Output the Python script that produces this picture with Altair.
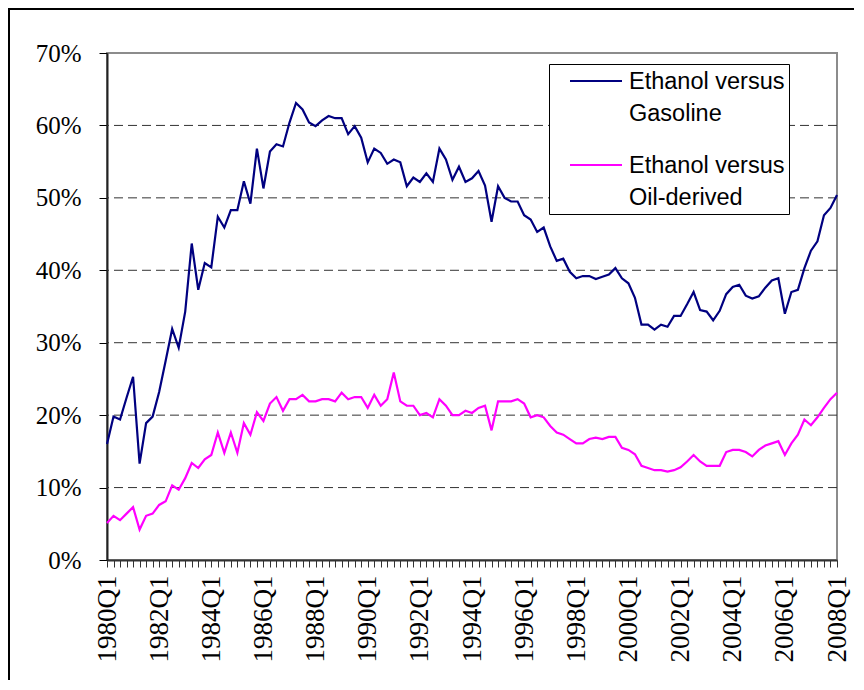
import json
import altair as alt
import pandas as pd

# Quarter categories 1980Q1 .. 2008Q1
quarters = [f"{y}Q{q}" for y in range(1980, 2009) for q in range(1, 5)][:113]

tick_labels = ["1980Q1", "1982Q1", "1984Q1", "1986Q1", "1988Q1", "1990Q1", "1992Q1",
               "1994Q1", "1996Q1", "1998Q1", "2000Q1", "2002Q1", "2004Q1", "2006Q1", "2008Q1"]

series_names = ["Ethanol versus Gasoline", "Ethanol versus Oil-derived"]
series_colors = ["#000080", "#FF00FF"]

# values in percent
gasoline = [16.0, 19.8, 19.4, 22.4, 25.3, 13.3, 18.9, 19.8, 23.2, 27.5,
            31.9, 29.3, 34.3, 43.7, 37.3, 41.0, 40.4, 47.4, 45.9, 48.3,
            48.3, 52.3, 49.2, 56.8, 51.3, 56.4, 57.4, 57.1, 60.4, 63.1,
            62.2, 60.4, 59.9, 60.7, 61.3, 61.0, 61.0, 58.8, 59.9, 58.3,
            54.9, 56.8, 56.2, 54.7, 55.3, 54.9, 51.6, 52.8, 52.2, 53.4,
            52.2, 56.8, 55.3, 52.5, 54.3, 52.2, 52.7, 53.7, 51.7, 46.7,
            51.6, 50.0, 49.5, 49.5, 47.6, 47.0, 45.3, 45.9, 43.3, 41.3,
            41.6, 39.8, 38.9, 39.2, 39.2, 38.8, 39.1, 39.4, 40.3, 38.9,
            38.2, 36.2, 32.5, 32.5, 31.8, 32.5, 32.2, 33.7, 33.7, 35.3,
            37.0, 34.5, 34.3, 33.1, 34.4, 36.7, 37.7, 38.0, 36.5, 36.1,
            36.4, 37.6, 38.6, 38.9, 34.0, 37.0, 37.3, 40.3, 42.7, 44.0,
            47.6, 48.6, 50.4]

oil_derived = [5.1, 6.1, 5.5, 6.4, 7.3, 4.2, 6.1, 6.4, 7.6, 8.1,
               10.3, 9.7, 11.3, 13.4, 12.7, 13.9, 14.5, 17.6, 14.8, 17.6,
               14.8, 18.9, 17.3, 20.4, 19.2, 21.6, 22.5, 20.6, 22.2, 22.2,
               22.8, 21.9, 21.9, 22.2, 22.2, 21.9, 23.1, 22.2, 22.5, 22.5,
               21.0, 22.8, 21.3, 22.2, 25.9, 21.9, 21.3, 21.3, 20.0, 20.3,
               19.7, 22.2, 21.3, 20.0, 20.0, 20.6, 20.3, 21.0, 21.3, 17.9,
               21.9, 21.9, 21.9, 22.2, 21.6, 19.7, 20.0, 19.7, 18.5, 17.6,
               17.3, 16.7, 16.1, 16.1, 16.7, 16.9, 16.7, 17.0, 17.0, 15.5,
               15.2, 14.6, 13.0, 12.7, 12.4, 12.4, 12.2, 12.4, 12.8, 13.6,
               14.5, 13.6, 13.0, 13.0, 13.0, 14.9, 15.2, 15.2, 14.9, 14.3,
               15.2, 15.8, 16.1, 16.4, 14.5, 16.1, 17.3, 19.4, 18.6, 19.7,
               21.0, 22.2, 23.1]

y_ticks = [0, 0.1, 0.2, 0.3, 0.4, 0.5, 0.6, 0.7]
grid_values = [0.1, 0.2, 0.3, 0.4, 0.5, 0.6]

rows = []
for name, vals in zip(series_names, [gasoline, oil_derived]):
    for q, v in zip(quarters, vals):
        rows.append({"quarter": q, "series": name, "value": v / 100.0})
df = pd.DataFrame(rows)

yscale = alt.Scale(domain=[0, 0.7], nice=False, zero=True)
xscale = alt.Scale(type="point", padding=0, domain=quarters)

label_expr = "indexof(" + json.dumps(tick_labels) + ", datum.value) >= 0 ? datum.value : ''"

y_axis = alt.Axis(values=y_ticks, format=".0%", labelFont="Liberation Serif",
                  labelFontSize=25, labelColor="black", labelPadding=18,
                  tickSize=8, tickColor="black", tickWidth=1,
                  domainColor="#222222", domainWidth=2, grid=False, title=None)

x_axis = alt.Axis(labelExpr=label_expr, labelAngle=270, labelAlign="right",
                  labelBaseline="middle", labelFont="Liberation Serif",
                  labelFontSize=27, labelColor="black", labelPadding=8,
                  tickSize=7, tickColor="#333333", tickWidth=1,
                  domainColor="#333333", domainWidth=2, grid=False,
                  labelOverlap=False, title=None)

grid = alt.Chart(pd.DataFrame({"v": grid_values})).mark_rule(
    color="#333333", strokeWidth=1, strokeDash=[9, 5]
).encode(y=alt.Y("v:Q", scale=yscale, axis=y_axis))

# two-line legend labels (break after "versus")
legend_label_expr = "split(replace(datum.label, 'versus ', 'versus\u00a0\u00a0|'), '|')"

lines = alt.Chart(df).mark_line(strokeWidth=2.2).encode(
    x=alt.X("quarter:O", scale=xscale, sort=quarters, axis=x_axis),
    y=alt.Y("value:Q", scale=yscale, axis=y_axis),
    color=alt.Color("series:N",
                    scale=alt.Scale(domain=series_names, range=series_colors),
                    legend=alt.Legend(orient="none", legendX=442, legendY=11, title=None,
                                      direction="vertical", strokeColor="black",
                                      fillColor="white", padding=4,
                                      symbolType="M-1.3,-0.4L1.3,-0.4", symbolSize=1600,
                                      symbolStrokeWidth=2, symbolOffset=22,
                                      labelOffset=12, labelFont="Liberation Sans",
                                      labelFontSize=23.5, labelColor="black",
                                      labelBaseline="alphabetic", labelLimit=0,
                                      labelExpr=legend_label_expr, rowPadding=26)),
)

frame_data = pd.DataFrame({"a": [0]})
frame_top = alt.Chart(frame_data).mark_rule(color="black", strokeWidth=2).encode(
    x=alt.value(-99), x2=alt.value(760), y=alt.value(-44))
frame_left = alt.Chart(frame_data).mark_rule(color="black", strokeWidth=2).encode(
    x=alt.value(-98), y=alt.value(-45), y2=alt.value(640))

chart = alt.layer(frame_top, frame_left, grid, lines).properties(
    width=730, height=507,
    padding={"left": 99, "top": 45, "right": 17, "bottom": 120},
    autosize=alt.AutoSizeParams(type="none"),
    background="white",
).configure(
    style={"guide-label": {"lineHeight": 32}}
).configure_view(
    stroke="#8c8c8c", strokeWidth=2
)

chart.save("out.html", embed_options={"renderer": "svg", "actions": False})
